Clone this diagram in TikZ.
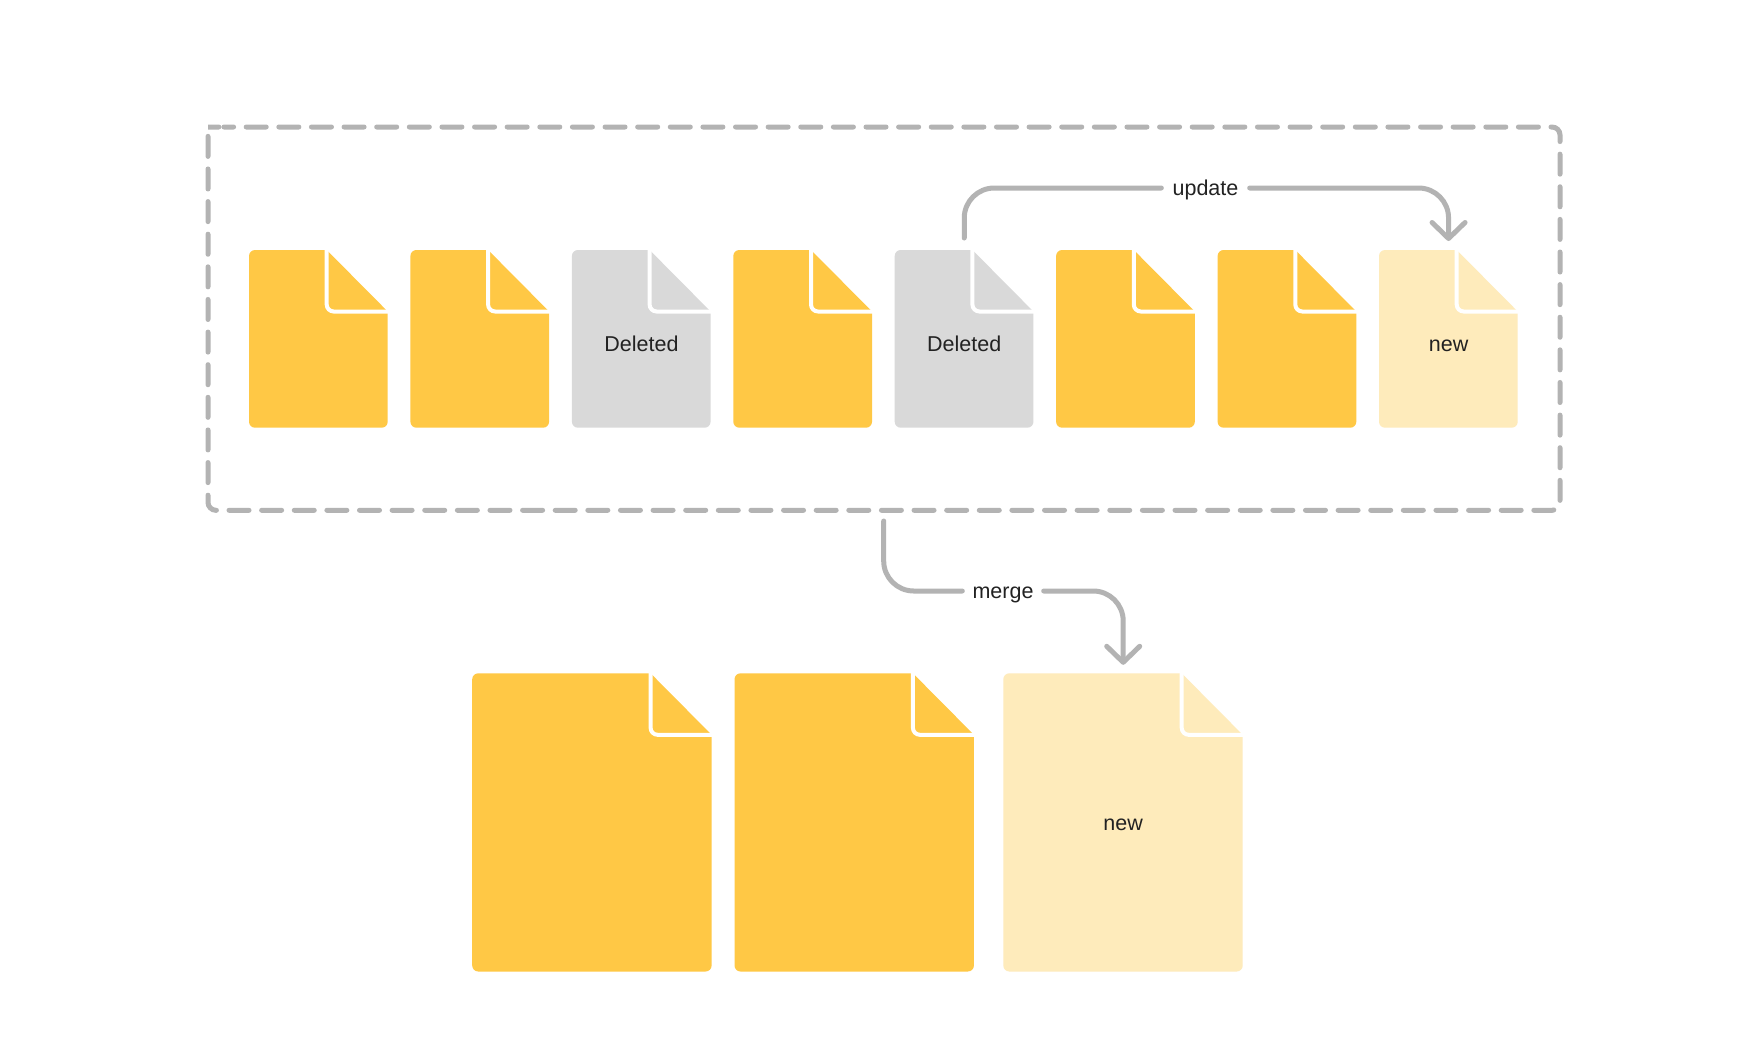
\documentclass[tikz,border=0pt]{standalone}
\usepackage{fontspec}
\setmainfont{Liberation Sans}
\usetikzlibrary{arrows.meta,calc}
\definecolor{docyellow}{HTML}{FFC845}
\definecolor{docgray}{HTML}{D9D9D9}
\definecolor{docpale}{HTML}{FEEBBB}
\definecolor{linegray}{HTML}{B3B3B3}
\definecolor{inkdark}{HTML}{222222}
\tikzset{
  connector/.style={draw=linegray,line width=5pt,line cap=round,line join=round,rounded corners=30pt},
  headed/.style={-{Straight Barb[length=16pt,width=33pt,round]}},
  dashbox/.style={draw=linegray,line width=5pt,line cap=round,dash pattern=on 20pt off 12.62pt,dash phase=10.4pt,rounded corners=8pt},
  lbl/.style={inner sep=0pt,text=inkdark,font=\fontsize{21.5}{25}\selectfont,text height=16.6pt,text depth=2pt,align=center},
  foldline/.style={draw=white,line width=4pt,rounded corners=7pt},
  docnode/.style={inner sep=0pt,anchor=north west,text=inkdark,font=\fontsize{21.5}{25}\selectfont,text depth=0pt}
}
% name, left, top, width, height, colour, text-height (vertical offset of text), text
\newcommand\docfile[8]{%
  \pgfmathsetmacro\dr{#2+#4}\pgfmathsetmacro\db{#3+#5}%
  \pgfmathsetmacro\dfx{\dr-61}\pgfmathsetmacro\dfy{#3+61.5}\pgfmathsetmacro\dtp{#3-1}\pgfmathsetmacro\drp{\dr+1}%
  \fill[#6] (\dfx,#3) [rounded corners=6pt] -- (#2,#3) -- (#2,\db) -- (\dr,\db) [sharp corners] -- (\dr,\dfy) -- cycle;
  \draw[foldline] (\dfx,\dtp) -- (\dfx,\dfy) -- (\drp,\dfy);
  \node[docnode,minimum width=#4pt,minimum height=#5pt,text height=#7pt] (#1) at (#2,#3) {#8};
}
\begin{document}
\begin{tikzpicture}[x=1pt,y=-1pt]
\useasboundingbox[fill=white] (0,0) rectangle (1761,1063);
% dashed frame
\draw[dashbox] (216,127) -- (1560,127) -- (1560,510.3) -- (208,510.3) -- (208,127) -- cycle;
\coordinate (frameout) at (883.7,521);
% small files
\docfile{a1}{249}{250}{138.7}{177.7}{docyellow}{0}{}
\docfile{a2}{410.4}{250}{138.7}{177.7}{docyellow}{0}{}
\docfile{a3}{571.9}{250}{138.7}{177.7}{docgray}{24.6}{Deleted}
\docfile{a4}{733.3}{250}{138.7}{177.7}{docyellow}{0}{}
\docfile{a5}{894.7}{250}{138.7}{177.7}{docgray}{24.6}{Deleted}
\docfile{a6}{1056.1}{250}{138.7}{177.7}{docyellow}{0}{}
\docfile{a7}{1217.6}{250}{138.7}{177.7}{docyellow}{0}{}
\docfile{a8}{1379}{250}{138.7}{177.7}{docpale}{24.6}{new}
% large files
\docfile{b1}{472.2}{673.3}{239.4}{298.2}{docyellow}{0}{}
\docfile{b2}{734.5}{673.3}{239.4}{298.2}{docyellow}{0}{}
\docfile{b3}{1003.3}{673.3}{239.4}{298.2}{docpale}{16.6}{new}
% update connector
\node[lbl,minimum width=88pt] (updlbl) at (1205.5,188) {update};
\draw[connector] ($(a5.north)+(0,-12)$) -- (a5.north |- updlbl.west) -- (updlbl.west);
\draw[connector,headed] (updlbl.east) -- (a8.north |- updlbl.east) -- ($(a8.north)+(0,-9)$);
% merge connector
\node[lbl,minimum width=81pt] (mrglbl) at (1003,591) {merge};
\draw[connector] (frameout) -- (frameout |- mrglbl.west) -- (mrglbl.west);
\draw[connector,headed] (mrglbl.east) -- (b3.north |- mrglbl.east) -- ($(b3.north)+(0,-8.5)$);
\end{tikzpicture}
\end{document}
